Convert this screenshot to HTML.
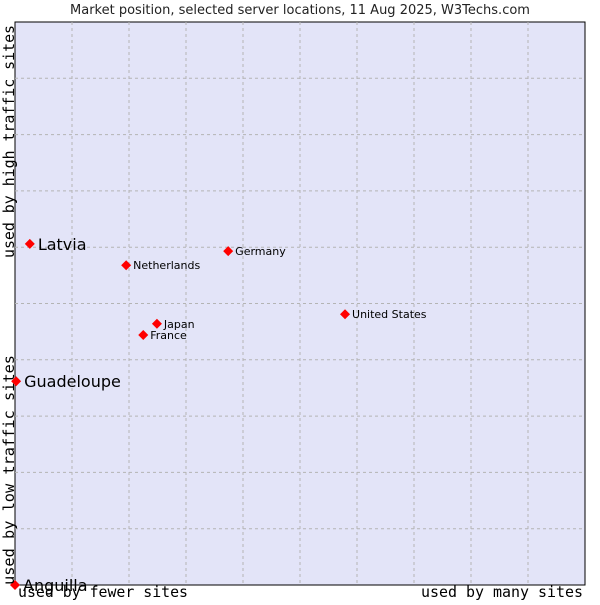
<!DOCTYPE html>
<html><head><meta charset="utf-8"><style>
body{margin:0;background:#fff;width:600px;height:600px;overflow:hidden}
svg text{font-family:"DejaVu Sans","Liberation Sans",sans-serif}
.mono{font-family:"DejaVu Sans Mono","Liberation Mono",monospace}
</style></head><body>
<svg id="chart" width="600" height="600">
<text x="300" y="14" text-anchor="middle" font-size="13" fill="#222">Market position, selected server locations, 11 Aug 2025, W3Techs.com</text>
<rect x="15" y="22" width="570" height="563" fill="#e3e4f8" stroke="#000" stroke-width="1"/>
<g id="grid"></g>
<g id="marks"></g>
<text class="mono" x="14" y="258" transform="rotate(-90 14 258)" font-size="15" textLength="233" lengthAdjust="spacingAndGlyphs">used by high traffic sites</text>
<text class="mono" x="14" y="585" transform="rotate(-90 14 585)" font-size="15" textLength="230" lengthAdjust="spacingAndGlyphs">used by low traffic sites</text>
<text class="mono" x="18" y="597" font-size="15" textLength="170" lengthAdjust="spacingAndGlyphs">used by fewer sites</text>
<text class="mono" x="421" y="597" font-size="15" textLength="162" lengthAdjust="spacingAndGlyphs">used by many sites</text>
</svg>
<script>
const names=["Latvia","Guadeloupe","Anguilla","Netherlands","Germany","Japan","France","United States"];
const xValues=[2.6,0.2,0,19.5,37.4,24.9,22.5,57.9];
const yValues=[60.6,36.2,0,56.8,59.3,46.4,44.4,48.1];
const bigLabel=[true,true,true,false,false,false,false,false];
const NS="http://www.w3.org/2000/svg";
const X=v=>15+v*5.7, Y=v=>585-v*5.63;
const grid=document.getElementById('grid'), marks=document.getElementById('marks');
for(let i=1;i<10;i++){
  let l=document.createElementNS(NS,'line');
  
  
  l.setAttribute('x1',X(i*10));l.setAttribute('x2',X(i*10));l.setAttribute('y1',22);l.setAttribute('y2',585);
  l.setAttribute('stroke','#b4b4b4');l.setAttribute('stroke-dasharray','3,3');grid.appendChild(l);
  let h=document.createElementNS(NS,'line');
  
  
  h.setAttribute('y1',Y(i*10));h.setAttribute('y2',Y(i*10));h.setAttribute('x1',15);h.setAttribute('x2',585);
  h.setAttribute('stroke','#b4b4b4');h.setAttribute('stroke-dasharray','3,3');grid.appendChild(h);
}
names.forEach((n,i)=>{
  const cx=X(xValues[i]),cy=Y(yValues[i]);
  const p=document.createElementNS(NS,'polygon');
  
  
  p.setAttribute('points',`${cx},${cy-5} ${cx+5},${cy} ${cx},${cy+5} ${cx-5},${cy}`);
  p.setAttribute('fill','#f00');marks.appendChild(p);
  const t=document.createElementNS(NS,'text');
  
  
  t.setAttribute('x',cx+(bigLabel[i]?8:7));t.setAttribute('y',cy+(bigLabel[i]?6:4));
  t.setAttribute('font-size',bigLabel[i]?16:11);t.setAttribute('fill','#000');
  t.textContent=n;marks.appendChild(t);
});
</script>
</body></html>
